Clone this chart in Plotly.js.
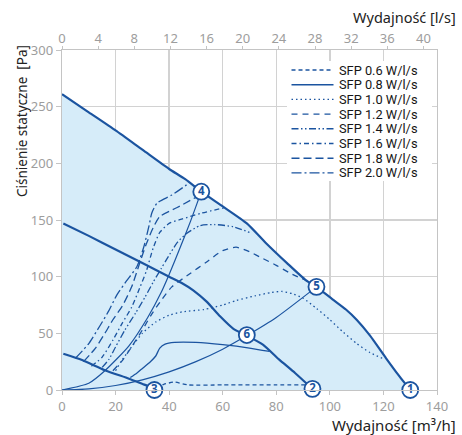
<!DOCTYPE html>
<html>
<head>
<meta charset="utf-8">
<script src="https://cdn.plot.ly/plotly-3.0.1.min.js"></script>
<style>html,body{margin:0;padding:0;background:#fff;}#chart{width:462px;height:435px;}</style>
</head>
<body>
<div id="chart"></div>
<script>
// ---- data (flow in m3/h, static pressure in Pa) ----
const topCurveFlow = [0,10,20,30,40,46,52,60,69,76,84,91,95,101,106,110,115,121,126,130];
const topCurvePres = [261,245,229,212,195,186,175,162,147,130,112,97,91,80,71,62,48,28,12,0];

const midCurveFlow = [0.5,10,20,30,40,45,49,54,59,64,69,75,81,87,93];
const midCurvePres = [147,136,124,112,100,94,88,78,65,54,48,40,27,15,2];

const lowCurveFlow = [0.5,7.5,16,25,31,35];
const lowCurvePres = [32,26.5,17.5,10,4.5,1];

const sysAFlow = [0,10,16,25,32,37,40,44,48,52];
const sysAPres = [0,6,17,39,64,86,102,125,149,175];

const sysBFlow = [0,10,20,30,40,50,60,69,80,95];
const sysBPres = [0,1,4,9,16,25,36,48,64,91];

const sfpLabels = ['SFP 0.6 W/l/s','SFP 0.8 W/l/s','SFP 1.0 W/l/s','SFP 1.2 W/l/s',
                   'SFP 1.4 W/l/s','SFP 1.6 W/l/s','SFP 1.8 W/l/s','SFP 2.0 W/l/s'];
const sfp06Flow = [35,38,42,47,60,80,92];
const sfp06Pres = [2,5,7,4.5,4.5,4.5,4.5];
const sfp08Flow = [25.5,28,30,33,35,36.5,38.5,42,50,60,70,77.5];
const sfp08Pres = [11,15,19,25,30,37,40.5,42,42,40,37,34];
const sfp10Flow = [20,22,25,30,35,40,45,53,60,65,72,78,82,86,90,95,100,105,110,115,120.5];
const sfp10Pres = [17,25,35,50,60,66,69,71,75,79,83,86,87,85,81,72,62,51,41,33,27];
const sfp12Flow = [19,22.5,26,30,33.5,37,41,48,54,60,65,70,75,80,86,91];
const sfp12Pres = [17,26,38,53,67,79,91,103,113,123,126,122,116,110,102,97];
const sfp14Flow = [15,17.5,20,23.5,27.5,31,34,37,39,43,46.5,51.5,57,64,70];
const sfp14Pres = [20,27,38,53,68,82,95,107,115,130,138,145,146,144,139];
const sfp16Flow = [11,15,19,22.5,26,29,31.5,34,36.5,40,45,52,61];
const sfp16Pres = [21,29,44,59,73,90,105,125,139,147,151,156,161];
const sfp18Flow = [8,12.5,16,19,22.5,26,29,31.5,34,36.5,43,50];
const sfp18Pres = [25,37,50,62,74,91,112,129,143,153,161,170];
const sfp20Flow = [5,10,14,17.5,20.5,24,28,30.5,32.5,33.5,35.5,41,46.5];
const sfp20Pres = [28,41,56,70,84,96,109,126,145,156,165,172,181];

const pointLabels = ['1','2','3','4','5','6'];
const pointFlow = [130,93.5,34.5,52,95,69];
const pointPres = [0,1,0,175,91,48.5];

const bottomTicks = [0,20,40,60,80,100,120,140];
const topTicks = [0,4,8,12,16,20,24,28,32,36,40];
const leftTicks = [0,50,100,150,200,250,300];

// ---- styling ----
const BLUE = '#1b54a0';
const FILL = '#d6ecf9';
const GRID = '#d2d2d2';
const AXIS = '#c4c4c4';
const TICKC = '#9d9d9d';
const W = 462, H = 435, ML = 62, MR = 25, MT = 50, MB = 45;
const PW = W - ML - MR, PH = H - MT - MB;
const px2x = p => (p - ML) / PW;
const px2y = p => (H - MB - p) / PH;

const sfpFlows = [sfp06Flow,sfp08Flow,sfp10Flow,sfp12Flow,sfp14Flow,sfp16Flow,sfp18Flow,sfp20Flow];
const sfpPres = [sfp06Pres,sfp08Pres,sfp10Pres,sfp12Pres,sfp14Pres,sfp16Pres,sfp18Pres,sfp20Pres];
const sfpDash = ['4px,3px','solid','1.5px,3px','6px,5px','7px,2.5px,1.5px,2.5px,1.5px,2.5px',
                 '5px,3px,1.5px,3px','8px,4px','10px,3px,2px,3px'];

const traces = [];
const spl = {shape:'spline', smoothing:0.6};
traces.push({x: topCurveFlow, y: topCurvePres, type:'scatter', mode:'lines', fill:'tozeroy',
  fillcolor: FILL, line:Object.assign({color:BLUE, width:2.2}, spl), hoverinfo:'skip'});
traces.push({x: midCurveFlow, y: midCurvePres, type:'scatter', mode:'lines',
  line:Object.assign({color:BLUE, width:2.2}, spl), hoverinfo:'skip'});
traces.push({x: lowCurveFlow, y: lowCurvePres, type:'scatter', mode:'lines',
  line:Object.assign({color:BLUE, width:2.2}, spl), hoverinfo:'skip'});
traces.push({x: sysAFlow, y: sysAPres, type:'scatter', mode:'lines',
  line:Object.assign({color:BLUE, width:1.2}, spl), hoverinfo:'skip'});
traces.push({x: sysBFlow, y: sysBPres, type:'scatter', mode:'lines',
  line:Object.assign({color:BLUE, width:1.2}, spl), hoverinfo:'skip'});
for (let i = 0; i < sfpLabels.length; i++) {
  traces.push({x: sfpFlows[i], y: sfpPres[i], type:'scatter', mode:'lines', name: sfpLabels[i],
    line:Object.assign({color:BLUE, width:1.3, dash: sfpDash[i]}, spl), hoverinfo:'skip'});
}
traces.push({x: pointFlow, y: pointPres, type:'scatter', mode:'markers+text', text: pointLabels,
  textposition:'middle center', cliponaxis:false,
  textfont:{family:'Noto Sans', size:11.5, color:BLUE, weight:'bold'},
  marker:{size:16, color:'#ffffff', line:{color:BLUE, width:1.8}}, hoverinfo:'skip'});
// invisible trace to activate the top (l/s) axis
traces.push({x: [0,41.5], y:[0,0], xaxis:'x2', type:'scatter', mode:'markers',
  marker:{opacity:0}, hoverinfo:'skip'});

// ---- legend (built from sfpLabels / sfpDash) ----
const shapes = [{type:'rect', xref:'paper', yref:'paper', layer:'above',
  x0:px2x(287), x1:px2x(432), y0:px2y(61), y1:px2y(181),
  fillcolor:'#ffffff', line:{width:0}}];
const annotations = [];
sfpLabels.forEach((lab, i) => {
  const yp = 70 + i * 14.7;
  shapes.push({type:'line', xref:'paper', yref:'paper', layer:'above',
    x0:px2x(291.5), x1:px2x(333.5), y0:px2y(yp), y1:px2y(yp),
    line:{color:BLUE, width:1.4, dash:sfpDash[i]}});
  annotations.push({text:lab, xref:'paper', yref:'paper', x:px2x(337), y:px2y(yp),
    xanchor:'left', yanchor:'middle', showarrow:false,
    font:{family:'Roboto', size:12.8, color:'#151515'}});
});

const tickFont = {family:'Noto Sans', size:13, color:TICKC};
const titleFont = {family:'Noto Sans', size:15, color:'#222222'};

annotations.push(
  {text:'Wydajność [l/s]', xref:'paper', yref:'paper', x:px2x(458), y:px2y(17), xanchor:'right', yanchor:'middle',
    showarrow:false, font:{family:'Noto Sans', size:14.5, color:'#222222'}},
  {text:'Wydajność [m³/h]', xref:'paper', yref:'paper', x:px2x(458), y:px2y(425), xanchor:'right', yanchor:'middle',
    showarrow:false, font:titleFont},
  {text:'Ciśnienie statyczne&nbsp; [Pa]', xref:'paper', yref:'paper', x:px2x(22), y:px2y(43), xanchor:'center', yanchor:'top',
    textangle:-90, showarrow:false, font:{family:'Noto Sans', size:13.5, color:'#222222'}}
);

const layout = {
  width:W, height:H,
  margin:{l:ML, r:MR, t:MT, b:MB},
  paper_bgcolor:'#ffffff', plot_bgcolor:'#ffffff',
  showlegend:false,
  xaxis:{range:[0,140], tickvals:bottomTicks, ticktext:bottomTicks.map(String), showgrid:true, gridcolor:GRID, gridwidth:1.3,
    showline:true, linecolor:AXIS, linewidth:1.3, ticks:'outside', ticklen:4, tickcolor:AXIS,
    tickfont:tickFont, zeroline:false, fixedrange:true},
  xaxis2:{overlaying:'x', side:'top', range:[0,41.5], tickvals:topTicks, ticktext:topTicks.map(String), showgrid:false,
    showline:true, linecolor:AXIS, linewidth:1.3, ticks:'outside', ticklen:3, tickcolor:AXIS,
    tickfont:tickFont, zeroline:false, fixedrange:true, ticklabelstandoff:-2},
  yaxis:{range:[0,300], tickvals:leftTicks, ticktext:leftTicks.map(String), showgrid:true, gridcolor:GRID, gridwidth:1.3,
    showline:true, mirror:true, linecolor:AXIS, linewidth:1.3, ticks:'outside', ticklen:5, tickcolor:AXIS,
    tickfont:tickFont, zeroline:false, fixedrange:true},
  shapes: shapes,
  annotations: annotations
};

Plotly.newPlot('chart', traces, layout, {displayModeBar:false, staticPlot:true});
</script>
</body>
</html>
